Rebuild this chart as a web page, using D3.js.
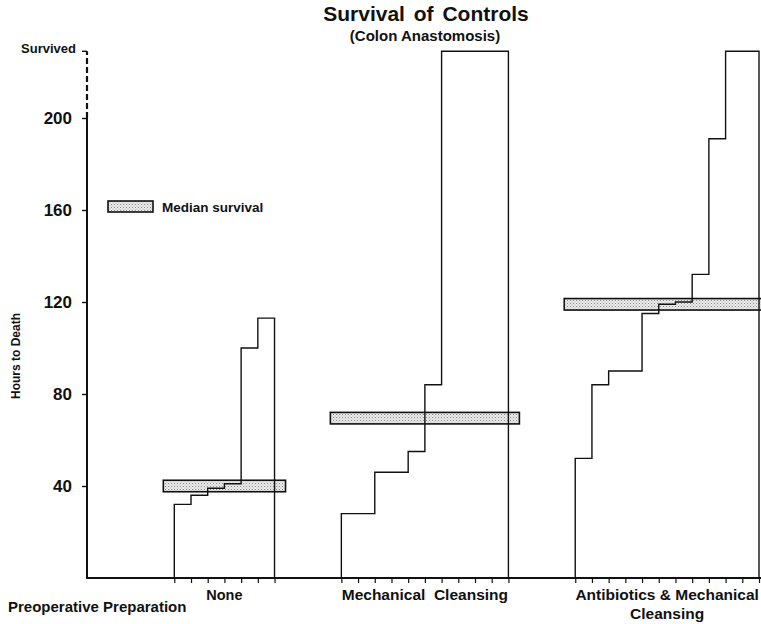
<!DOCTYPE html>
<html>
<head>
<meta charset="utf-8">
<script src="https://cdn.jsdelivr.net/npm/d3@7"></script>
<style>
  body { margin: 0; background: #fff; }
  svg { display: block; font-family: "Liberation Sans", Arial, sans-serif; font-weight: bold; }
</style>
</head>
<body>
<div id="chart"></div>
<script>
// hours to death for each control animal, sorted; null = survived
var groupNames = ["None", "Mechanical  Cleansing", "Antibiotics & Mechanical"];
var noneHours = [32, 36, 39, 41, 100, 113];
var mechHours = [28, 28, 46, 46, 55, 84, null, null, null, null];
var abxHours = [52, 84, 90, 90, 115, 119, 120, 132, 191, null, null];
var medianHours = [40, 69.5, 119];
var yTicks = [40, 80, 120, 160, 200];
var SURVIVED = 229; // where the "Survived" level sits on the hours scale

var width = 761, height = 624;

var svg = d3.select('#chart').append('svg')
  .attr('width', width)
  .attr('height', height);

// dotted fill for the median bands
var pat = svg.append('defs').append('pattern')
  .attr('id', 'stipple')
  .attr('patternUnits', 'userSpaceOnUse')
  .attr('width', 3).attr('height', 3);
pat.append('rect').attr('width', 3).attr('height', 3).attr('fill', '#ececec');
pat.append('rect').attr('x', 0).attr('y', 0).attr('width', 1).attr('height', 1).attr('fill', '#888');
pat.append('rect').attr('x', 1.5).attr('y', 1.5).attr('width', 1).attr('height', 1).attr('fill', '#aaa');

var y = d3.scaleLinear().domain([0, 200]).range([578, 118]);
// x is in "animal slots"; groups are separated by 4 empty slots
var x = d3.scaleLinear().domain([0, 35]).range([174.3, 759]);

var groups = [noneHours, mechHours, abxHours];
var starts = [];
var s = 0;
groups.forEach(function(g) { starts.push(s); s += g.length + 4; });

// median bands (under the step lines)
groups.forEach(function(g, gi) {
  var x0 = x(starts[gi]) - 11;
  var x1 = Math.min(x(starts[gi] + g.length) + 11, width + 5);
  svg.append('rect')
    .attr('x', x0)
    .attr('y', y(medianHours[gi] + 2.5))
    .attr('width', x1 - x0)
    .attr('height', y(medianHours[gi] - 2.5) - y(medianHours[gi] + 2.5))
    .attr('fill', 'url(#stipple)')
    .attr('stroke', '#111')
    .attr('stroke-width', 1.6);
});

// step outlines
var line = d3.line()
  .x(function(d) { return x(d[0]); })
  .y(function(d) { return y(d[1]); });

groups.forEach(function(g, gi) {
  var pts = [[starts[gi], 0]];
  g.forEach(function(v, k) {
    var h = v === null ? SURVIVED : v;
    pts.push([starts[gi] + k, h]);
    pts.push([starts[gi] + k + 1, h]);
  });
  pts.push([starts[gi] + g.length, 0]);
  svg.append('path')
    .attr('d', line(pts))
    .attr('fill', 'none')
    .attr('stroke', '#111')
    .attr('stroke-width', 1.4);
});

// x axis line and slot ticks
svg.append('line')
  .attr('x1', 86).attr('x2', width)
  .attr('y1', 578).attr('y2', 578)
  .attr('stroke', '#111').attr('stroke-width', 2.2);

var slotTicks = [];
groups.forEach(function(g, gi) {
  for (var k = 0; k <= g.length; k++) slotTicks.push(starts[gi] + k);
});
var xAxis = svg.append('g')
  .attr('transform', 'translate(0,578)')
  .call(d3.axisBottom(x).tickValues(slotTicks).tickFormat('').tickSize(5).tickSizeOuter(0));
xAxis.select('.domain').remove();
xAxis.selectAll('line').attr('stroke', '#111').attr('stroke-width', 1.2);

// y axis
var yAxis = svg.append('g')
  .attr('transform', 'translate(87,0)')
  .call(d3.axisLeft(y).tickValues(yTicks).tickSize(5).tickPadding(10));
yAxis.select('.domain').remove();
yAxis.selectAll('line').attr('stroke', '#111').attr('stroke-width', 1.4);
yAxis.selectAll('text')
  .attr('font-size', 17)
  .attr('font-family', '"Liberation Sans", Arial, sans-serif')
  .attr('font-weight', 'bold')
  .attr('fill', '#111');

svg.append('line')
  .attr('x1', 87).attr('x2', 87)
  .attr('y1', y(0)).attr('y2', y(200))
  .attr('stroke', '#111').attr('stroke-width', 2);
svg.append('line')
  .attr('x1', 87).attr('x2', 87)
  .attr('y1', y(200)).attr('y2', y(SURVIVED))
  .attr('stroke', '#111').attr('stroke-width', 2.2)
  .attr('stroke-dasharray', '6,3');
svg.append('line')
  .attr('x1', 82).attr('x2', 87)
  .attr('y1', y(SURVIVED)).attr('y2', y(SURVIVED))
  .attr('stroke', '#111').attr('stroke-width', 1.4);
svg.append('text')
  .attr('x', 76).attr('y', y(SURVIVED) + 2)
  .attr('text-anchor', 'end')
  .attr('font-size', 13)
  .attr('fill', '#111')
  .text('Survived');

svg.append('text')
  .attr('transform', 'translate(20,356) rotate(-90)')
  .attr('text-anchor', 'middle')
  .attr('font-size', 12)
  .attr('fill', '#111')
  .text('Hours to Death');

// titles
svg.append('text')
  .attr('x', 426).attr('y', 21)
  .attr('text-anchor', 'middle')
  .attr('font-size', 21)
  .attr('word-spacing', 3)
  .attr('fill', '#111')
  .text('Survival of Controls');
svg.append('text')
  .attr('x', 425).attr('y', 41)
  .attr('text-anchor', 'middle')
  .attr('font-size', 15)
  .attr('fill', '#111')
  .text('(Colon Anastomosis)');

// legend
svg.append('rect')
  .attr('x', 108).attr('y', 201)
  .attr('width', 45).attr('height', 11)
  .attr('fill', 'url(#stipple)')
  .attr('stroke', '#111').attr('stroke-width', 1.6);
svg.append('text')
  .attr('x', 162).attr('y', 212)
  .attr('font-size', 13.5)
  .attr('fill', '#111')
  .text('Median survival');

// group labels
groups.forEach(function(g, gi) {
  svg.append('text')
    .attr('x', x(starts[gi] + g.length / 2))
    .attr('y', 600)
    .attr('text-anchor', 'middle')
    .attr('font-size', gi === 0 ? 14.5 : 15.5)
    .attr('fill', '#111')
    .style('white-space', 'pre')
    .text(groupNames[gi]);
});
svg.append('text')
  .attr('x', x(starts[2] + abxHours.length / 2))
  .attr('y', 619)
  .attr('text-anchor', 'middle')
  .attr('font-size', 15.5)
  .attr('fill', '#111')
  .text('Cleansing');

svg.append('text')
  .attr('x', 8).attr('y', 612)
  .attr('font-size', 15)
  .attr('fill', '#111')
  .text('Preoperative Preparation');
</script>
</body>
</html>
